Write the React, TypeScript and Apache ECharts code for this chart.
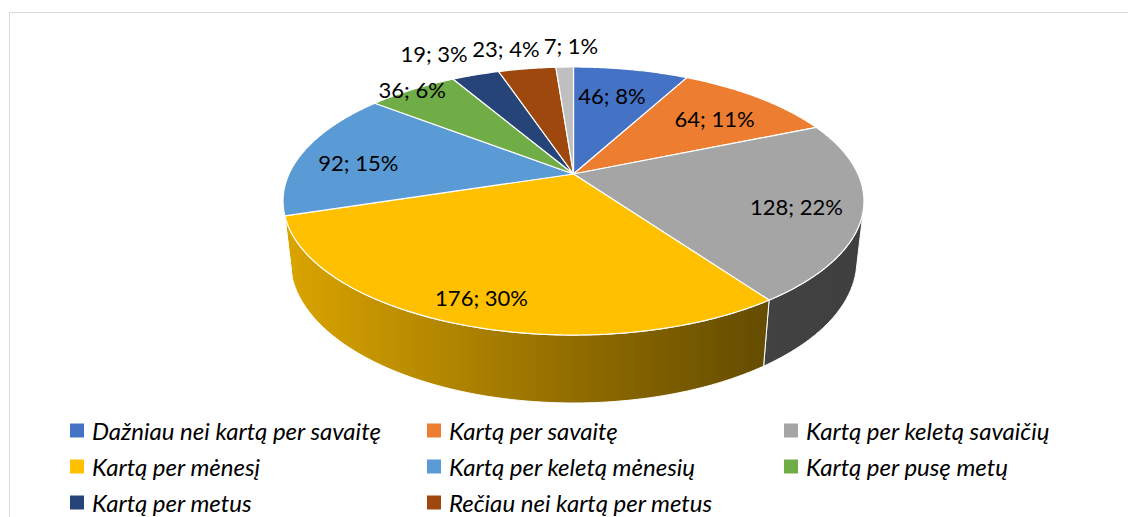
import React, { useEffect, useRef } from "react";
import * as echarts from "echarts";

// ---- data ----
const categories = [
  "Dažniau nei kartą per savaitę",
  "Kartą per savaitę",
  "Kartą per keletą savaičių",
  "Kartą per mėnesį",
  "Kartą per keletą mėnesių",
  "Kartą per pusę metų",
  "Kartą per metus",
  "Rečiau nei kartą per metus",
  "Kita",
];
const values = [46, 64, 128, 176, 92, 36, 19, 23, 7];
const percentLabels = ["8%", "11%", "22%", "30%", "15%", "6%", "3%", "4%", "1%"];
const legendCount = 8;

// ---- styles / layout ----
const colors = ["#4472C4", "#ED7D31", "#A5A5A5", "#FFC000", "#5B9BD5", "#70AD47", "#264478", "#9E480E", "#BFBFBF"];
const labelRadius = [0.72, 0.74, 0.78, 0.85, 0.79, 1.0, 1.27, 1.245, 1.255];
const labelDx = [-5, 0, 0, 0, 0, 0, -20, -12, 8];
const labelDy = [0, 3, 4, 0, 6, 0, 0, 0, 0];

// perspective projection of the 3D pie
const CX = 573.5;
const CY = 174;
const F = 1258.9;
const DIST = 4.425;
const TILT = (26.87 * Math.PI) / 180;
const SA = Math.sin(TILT);
const CA = Math.cos(TILT);
const THICK = 0.2354;

function proj(rho: number, th: number, hz: number): number[] {
  const w = rho * Math.cos(th);
  const x = rho * Math.sin(th);
  const yc = w * SA + hz * CA;
  const zc = DIST + w * CA - hz * SA;
  return [CX + (F * x) / zc, CY - (F * yc) / zc];
}

const visLo = Math.acos(-1 / (DIST * CA));
const visHi = 2 * Math.PI - visLo;

function shade(hex: string, f: number): string {
  const n = parseInt(hex.slice(1), 16);
  const r = Math.round(((n >> 16) & 255) * f);
  const g = Math.round(((n >> 8) & 255) * f);
  const b = Math.round((n & 255) * f);
  return `rgb(${r},${g},${b})`;
}

const total = values.reduce((a, b) => a + b, 0);
const starts: number[] = [];
{
  let acc = 0;
  values.forEach((v) => {
    starts.push((acc / total) * 2 * Math.PI);
    acc += v;
  });
}

function sliceSeries(i: number): any {
  return {
    type: "custom",
    name: categories[i],
    coordinateSystem: "none",
    itemStyle: { color: colors[i] },
    silent: true,
    z: 2,
    data: [[values[i]]],
    renderItem: (params: any, api: any) => {
      const v = api.value(0) as number;
      const a0 = starts[i];
      const a1 = a0 + (v / total) * 2 * Math.PI;
      const step = Math.PI / 360;
      const n = Math.max(2, Math.ceil((a1 - a0) / step));
      const topPts: number[][] = [[CX, CY]];
      for (let k = 0; k <= n; k++) {
        topPts.push(proj(1, a0 + ((a1 - a0) * k) / n, 0));
      }
      const children: any[] = [];
      const lo = Math.max(a0, visLo);
      const hi = Math.min(a1, visHi);
      if (hi > lo) {
        const m = Math.max(2, Math.ceil((hi - lo) / step));
        const sidePts: number[][] = [];
        for (let k = 0; k <= m; k++) sidePts.push(proj(1, lo + ((hi - lo) * k) / m, 0));
        for (let k = m; k >= 0; k--) sidePts.push(proj(1, lo + ((hi - lo) * k) / m, -THICK));
        const fill = new echarts.graphic.LinearGradient(
          283,
          0,
          864,
          0,
          [
            { offset: 0, color: shade(colors[i], 0.86) },
            { offset: 0.5, color: shade(colors[i], 0.57) },
            { offset: 0.82, color: shade(colors[i], 0.4) },
            { offset: 1, color: shade(colors[i], 0.38) },
          ],
          true
        );
        children.push({
          type: "polygon",
          shape: { points: sidePts },
          style: { fill, stroke: "#ffffff", lineWidth: 1 },
        });
      }
      children.push({
        type: "polygon",
        shape: { points: topPts },
        style: { fill: colors[i], stroke: "#ffffff", lineWidth: 1.2 },
      });
      return { type: "group", children };
    },
  };
}

const labelSeries: any = {
  type: "custom",
  name: "labels",
  coordinateSystem: "none",
  silent: true,
  z: 5,
  data: values.map((v, i) => [v, i]),
  renderItem: (params: any, api: any) => {
    const i = params.dataIndex;
    const v = api.value(0) as number;
    const mid = starts[i] + (v / total) * Math.PI;
    const p = proj(labelRadius[i], mid, 0);
    return {
      type: "text",
      x: p[0] + labelDx[i],
      y: p[1] + labelDy[i],
      style: {
        text: `${v}; ${percentLabels[i]}`,
        fill: "#000000",
        font: "22px Lato, sans-serif",
        align: "center",
        verticalAlign: "middle",
        textAlign: "center",
        textVerticalAlign: "middle",
      },
    };
  },
};

export default function App() {
  const ref = useRef<HTMLDivElement>(null);
  useEffect(() => {
    if (!ref.current) return;
    const chart = echarts.init(ref.current, undefined, { renderer: "svg" });
    chart.setOption({
      animation: false,
      color: colors,
      graphic: [
        {
          type: "rect",
          silent: true,
          z: -10,
          shape: { x: 9.5, y: 12.5, width: 1400, height: 800 },
          style: { fill: "none", stroke: "#D9D9D9", lineWidth: 1 },
        },
      ],
      legend: {
        data: categories.slice(0, legendCount),
        left: 70,
        top: 415,
        padding: 0,
        width: 1080,
        itemWidth: 14,
        itemHeight: 14,
        itemGap: 5,
        icon: "rect",
        selectedMode: false,
        textStyle: {
          fontFamily: "Lato",
          fontStyle: "italic",
          fontSize: 24,
          color: "#000000",
          width: 330,
          lineHeight: 31,
          padding: [0, 0, 0, 3],
          overflow: "none",
        },
      },
      series: [...values.map((_, i) => sliceSeries(i)), labelSeries],
    });
    return () => chart.dispose();
  }, []);
  return (
    <div
      ref={ref}
      style={{ position: "fixed", left: 0, top: 0, width: 1128, height: 517, background: "#ffffff" }}
    />
  );
}
